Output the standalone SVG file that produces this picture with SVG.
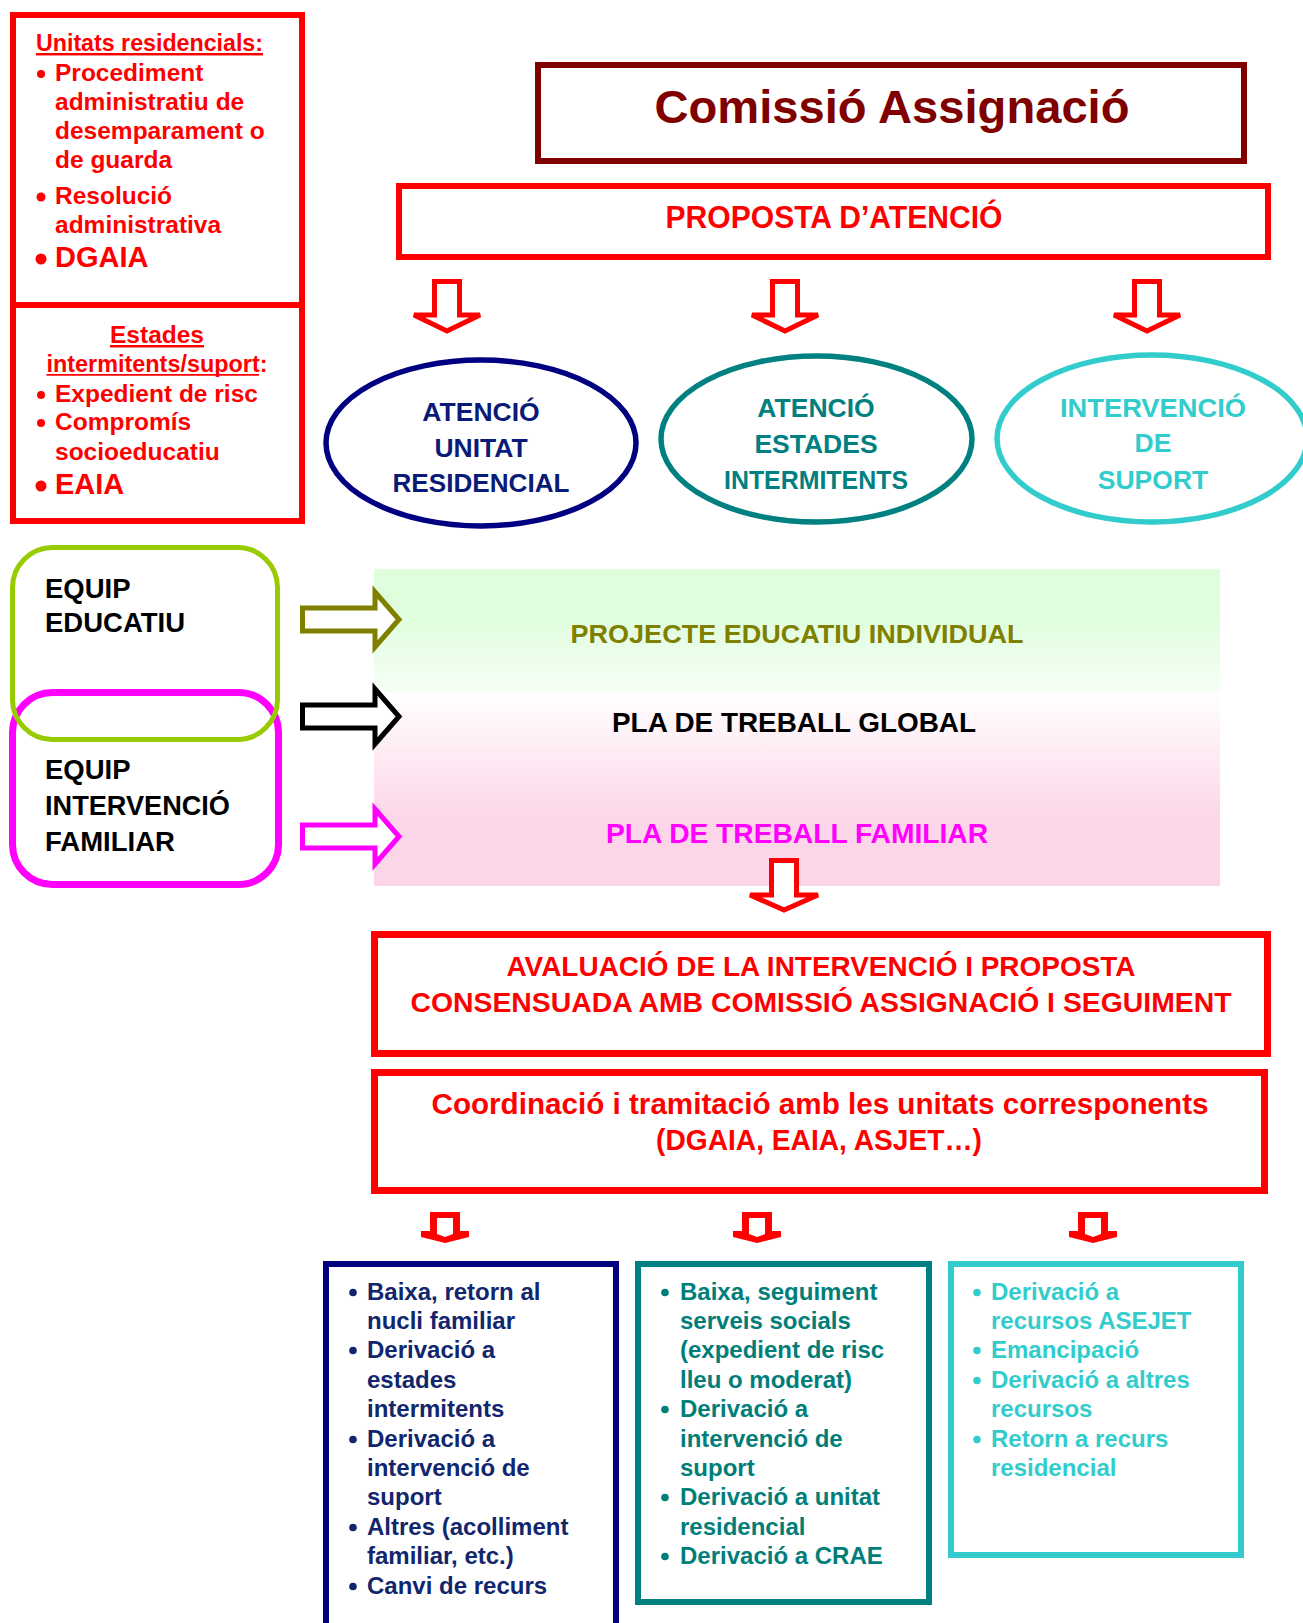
<svg xmlns="http://www.w3.org/2000/svg" width="1303" height="1623" viewBox="0 0 1303 1623">
<defs>
<style>
text{font-family:"Liberation Sans",Arial,sans-serif;font-weight:bold;}
.red{fill:#FF0000;}
.lt{font-size:24.5px;fill:#FF0000;}
.big{font-size:29px;fill:#FF0000;}
.ul{text-decoration:underline;}
.ell{fill:#fff;stroke-width:5.5;}
.et{font-size:26.5px;text-anchor:middle;}
.eq{font-size:27.5px;fill:#000;}
.bt{font-size:24px;}
.navy{fill:#12266E;}
.teal{fill:#007E7A;}
.turq{fill:#33CCCC;}
.rarr{fill:#fff;stroke-width:5;stroke-linejoin:miter;}
.darr{fill:#fff;stroke:#FF0000;stroke-width:5;stroke-linejoin:miter;}
.sarr{fill:#FF0000;}
</style>
<linearGradient id="gGreen" x1="0" y1="0" x2="0" y2="1">
<stop offset="0" stop-color="#DFFEDC"/>
<stop offset="0.4" stop-color="#E0FEDE"/>
<stop offset="1" stop-color="#F6FFF6"/>
</linearGradient>
<linearGradient id="gPink" x1="0" y1="0" x2="0" y2="1">
<stop offset="0" stop-color="#FFFFFF"/>
<stop offset="0.67" stop-color="#FDD5E8"/>
<stop offset="1" stop-color="#FDD5E8"/>
</linearGradient>
</defs>
<rect width="1303" height="1623" fill="#fff"/>

<!-- Left info box -->
<g id="left-info">
<rect x="13" y="15" width="289" height="506" fill="none" stroke="#FF0000" stroke-width="6"/>
<line x1="13" y1="305" x2="302" y2="305" stroke="#FF0000" stroke-width="6"/>
<text class="lt ul" x="36" y="51" textLength="227" lengthAdjust="spacingAndGlyphs">Unitats residencials:</text>
<circle class="red" cx="41" cy="74" r="4"/>
<text class="lt" x="55" y="81">Procediment</text>
<text class="lt" x="55" y="110">administratiu de</text>
<text class="lt" x="55" y="139">desemparament o</text>
<text class="lt" x="55" y="168">de guarda</text>
<circle class="red" cx="41" cy="197" r="4.5"/>
<text class="lt" x="55" y="204">Resolució</text>
<text class="lt" x="55" y="233">administrativa</text>
<circle class="red" cx="41" cy="259" r="5.5"/>
<text class="big" x="55" y="267">DGAIA</text>
<text class="lt ul" x="157" y="343" text-anchor="middle">Estades</text>
<text class="lt" x="46.5" y="372" textLength="221" lengthAdjust="spacingAndGlyphs">intermitents/suport:</text>
<line x1="46.5" y1="374.8" x2="259" y2="374.8" stroke="#FF0000" stroke-width="1.8"/>
<circle class="red" cx="41" cy="395" r="4"/>
<text class="lt" x="55" y="402">Expedient de risc</text>
<circle class="red" cx="41" cy="423" r="4"/>
<text class="lt" x="55" y="430">Compromís</text>
<text class="lt" x="55" y="460">socioeducatiu</text>
<circle class="red" cx="41" cy="486" r="5.5"/>
<text class="big" x="55" y="494">EAIA</text>
</g>

<!-- Comissió -->
<g id="comissio">
<rect x="538" y="65" width="706" height="96" fill="none" stroke="#800000" stroke-width="6"/>
<text x="892" y="123" font-size="47" fill="#800000" text-anchor="middle" textLength="475" lengthAdjust="spacingAndGlyphs">Comissió Assignació</text>
</g>

<!-- Proposta -->
<g id="proposta">
<rect x="399" y="186" width="869" height="71" fill="none" stroke="#FF0000" stroke-width="6"/>
<text x="834" y="228" font-size="30.5" fill="#FF0000" text-anchor="middle" textLength="337" lengthAdjust="spacingAndGlyphs">PROPOSTA D’ATENCIÓ</text>
</g>

<!-- Ellipses -->
<g id="atencio-unitat">
<ellipse class="ell" cx="481" cy="443" rx="155" ry="83" stroke="#000080"/>
<text class="et" x="481" y="421" fill="#0A1A78">ATENCIÓ</text>
<text class="et" x="481" y="457" fill="#0A1A78">UNITAT</text>
<text class="et" x="481" y="492" fill="#0A1A78" textLength="177" lengthAdjust="spacingAndGlyphs">RESIDENCIAL</text>
</g>
<g id="atencio-estades">
<ellipse class="ell" cx="816.5" cy="439" rx="155.5" ry="83" stroke="#008080"/>
<text class="et" x="816" y="417" fill="#008080">ATENCIÓ</text>
<text class="et" x="816" y="453" fill="#008080">ESTADES</text>
<text class="et" x="816" y="489" fill="#008080" textLength="184" lengthAdjust="spacingAndGlyphs">INTERMITENTS</text>
</g>
<g id="intervencio-suport">
<ellipse class="ell" cx="1152" cy="438.5" rx="155" ry="83.5" stroke="#33CCCC"/>
<text class="et" x="1153" y="417" fill="#33CCCC" font-size="27" textLength="186" lengthAdjust="spacingAndGlyphs">INTERVENCIÓ</text>
<text class="et" x="1153" y="452" fill="#33CCCC" font-size="27">DE</text>
<text class="et" x="1153" y="489" fill="#33CCCC" font-size="27">SUPORT</text>
</g>

<!-- Panel -->
<g id="plans">
<rect x="374" y="569" width="846" height="123" fill="url(#gGreen)"/>
<rect x="374" y="692" width="846" height="194" fill="url(#gPink)"/>
<text x="797" y="643" font-size="26.5" fill="#7F7F00" text-anchor="middle" textLength="453" lengthAdjust="spacingAndGlyphs">PROJECTE EDUCATIU INDIVIDUAL</text>
<text x="794" y="732" font-size="28" fill="#000" text-anchor="middle" textLength="364" lengthAdjust="spacingAndGlyphs">PLA DE TREBALL GLOBAL</text>
<text x="797" y="843" font-size="28" fill="#FF00FF" text-anchor="middle" textLength="382" lengthAdjust="spacingAndGlyphs">PLA DE TREBALL FAMILIAR</text>
</g>

<!-- Equips -->
<g id="equip-familiar">
<rect x="12.5" y="692.5" width="266" height="192" rx="40" ry="40" fill="none" stroke="#FF00FF" stroke-width="7"/>
<text class="eq" x="45" y="779">EQUIP</text>
<text class="eq" x="45" y="815" textLength="185" lengthAdjust="spacingAndGlyphs">INTERVENCIÓ</text>
<text class="eq" x="45" y="851">FAMILIAR</text>
</g>
<g id="equip-educatiu">
<rect x="12.5" y="547.5" width="265" height="192" rx="40" ry="40" fill="none" stroke="#99CC00" stroke-width="5"/>
<text class="eq" x="45" y="598">EQUIP</text>
<text class="eq" x="45" y="632">EDUCATIU</text>
</g>

<!-- Avaluació -->
<g id="avaluacio">
<rect x="374.5" y="934.5" width="893" height="119" fill="none" stroke="#FF0000" stroke-width="7"/>
<text x="821" y="976" font-size="28" fill="#FF0000" text-anchor="middle" textLength="629" lengthAdjust="spacingAndGlyphs">AVALUACIÓ DE LA INTERVENCIÓ I PROPOSTA</text>
<text x="821" y="1012" font-size="28" fill="#FF0000" text-anchor="middle" textLength="821" lengthAdjust="spacingAndGlyphs">CONSENSUADA AMB COMISSIÓ ASSIGNACIÓ I SEGUIMENT</text>
</g>

<!-- Coordinació -->
<g id="coordinacio">
<rect x="374.5" y="1072.5" width="890" height="118" fill="none" stroke="#FF0000" stroke-width="7"/>
<text x="820" y="1114" font-size="29" fill="#FF0000" text-anchor="middle" textLength="777" lengthAdjust="spacingAndGlyphs">Coordinació i tramitació amb les unitats corresponents</text>
<text x="819" y="1150" font-size="29" fill="#FF0000" text-anchor="middle" textLength="326" lengthAdjust="spacingAndGlyphs">(DGAIA, EAIA, ASJET…)</text>
</g>

<!-- Bottom boxes -->
<g id="sortida-unitat">
<rect x="326" y="1264" width="290" height="400" fill="none" stroke="#000080" stroke-width="6"/>
<g class="navy">
<circle cx="353" cy="1292.5" r="3.8"/><circle cx="353" cy="1350.5" r="3.8"/><circle cx="353" cy="1439.5" r="3.8"/><circle cx="353" cy="1527.5" r="3.8"/><circle cx="353" cy="1586.5" r="3.8"/>
<text class="bt" x="367" y="1300">Baixa, retorn al</text>
<text class="bt" x="367" y="1329">nucli familiar</text>
<text class="bt" x="367" y="1358">Derivació a</text>
<text class="bt" x="367" y="1388">estades</text>
<text class="bt" x="367" y="1417">intermitents</text>
<text class="bt" x="367" y="1447">Derivació a</text>
<text class="bt" x="367" y="1476">intervenció de</text>
<text class="bt" x="367" y="1505">suport</text>
<text class="bt" x="367" y="1535">Altres (acolliment</text>
<text class="bt" x="367" y="1564">familiar, etc.)</text>
<text class="bt" x="367" y="1594">Canvi de recurs</text>
</g>
</g>
<g id="sortida-estades">
<rect x="638" y="1264" width="291" height="338" fill="none" stroke="#008080" stroke-width="6"/>
<g class="teal">
<circle cx="665" cy="1292.5" r="3.8"/><circle cx="665" cy="1409.5" r="3.8"/><circle cx="665" cy="1497.5" r="3.8"/><circle cx="665" cy="1556.5" r="3.8"/>
<text class="bt" x="680" y="1300">Baixa, seguiment</text>
<text class="bt" x="680" y="1329">serveis socials</text>
<text class="bt" x="680" y="1358">(expedient de risc</text>
<text class="bt" x="680" y="1388">lleu o moderat)</text>
<text class="bt" x="680" y="1417">Derivació a</text>
<text class="bt" x="680" y="1447">intervenció de</text>
<text class="bt" x="680" y="1476">suport</text>
<text class="bt" x="680" y="1505">Derivació a unitat</text>
<text class="bt" x="680" y="1535">residencial</text>
<text class="bt" x="680" y="1564">Derivació a CRAE</text>
</g>
</g>
<g id="sortida-suport">
<rect x="951" y="1264" width="290" height="291" fill="none" stroke="#33CCCC" stroke-width="6"/>
<g class="turq">
<circle cx="977" cy="1292.5" r="3.8"/><circle cx="977" cy="1350.5" r="3.8"/><circle cx="977" cy="1380.5" r="3.8"/><circle cx="977" cy="1439.5" r="3.8"/>
<text class="bt" x="991" y="1300">Derivació a</text>
<text class="bt" x="991" y="1329">recursos ASEJET</text>
<text class="bt" x="991" y="1358">Emancipació</text>
<text class="bt" x="991" y="1388">Derivació a altres</text>
<text class="bt" x="991" y="1417">recursos</text>
<text class="bt" x="991" y="1447">Retorn a recurs</text>
<text class="bt" x="991" y="1476">residencial</text>
</g>
</g>

<!-- Connectors -->
<g id="connectors">
<path class="darr" d="M434.5,281.5 H459.5 V315 H480 L447,331 L414,315 H434.5 Z"/>
<path class="darr" d="M772.5,281.5 H797.5 V315 H818 L785,331 L752,315 H772.5 Z"/>
<path class="darr" d="M1134.5,281.5 H1159.5 V315 H1180 L1147,331 L1114,315 H1134.5 Z"/>
<path class="rarr" stroke="#808000" d="M302.5,608 H375 V592 L399,619.5 L375,647 V631 H302.5 Z"/>
<path class="rarr" stroke="#000000" d="M302.5,705 H375 V689 L399,716.5 L375,744 V728 H302.5 Z"/>
<path class="rarr" stroke="#FF00FF" d="M302.5,825 H375 V809 L399,836.5 L375,864 V848 H302.5 Z"/>
<path class="darr" d="M771.5,860.5 H796.5 V895 H818 L784,910 L750,895 H771.5 Z"/>
<path class="sarr" d="M430,1212 H460 V1231 H469 V1237 L445,1243 L421,1237 V1231 H430 Z M437,1218 V1234 L445,1237 L453,1234 V1218 Z" fill-rule="evenodd"/>
<path class="sarr" d="M742,1212 H772 V1231 H781 V1237 L757,1243 L733,1237 V1231 H742 Z M749,1218 V1234 L757,1237 L765,1234 V1218 Z" fill-rule="evenodd"/>
<path class="sarr" d="M1078,1212 H1108 V1231 H1117 V1237 L1093,1243 L1069,1237 V1231 H1078 Z M1085,1218 V1234 L1093,1237 L1101,1234 V1218 Z" fill-rule="evenodd"/>
</g>
</svg>
